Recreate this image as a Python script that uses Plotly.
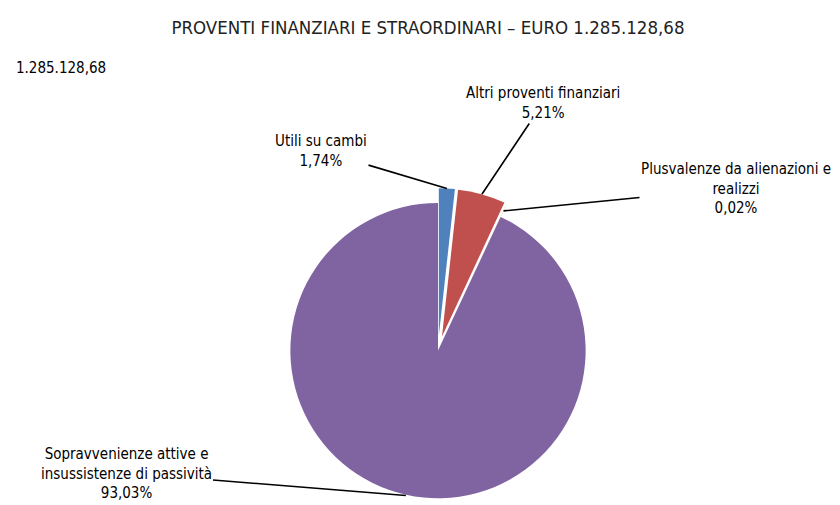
import math
import plotly.graph_objects as go

# ---- data ----
categories = [
    "Utili su cambi",
    "Altri proventi finanziari",
    "Plusvalenze da alienazioni e<br>realizzi",
    "Sopravvenienze attive e<br>insussistenze di passività",
]
percentages = [1.74, 5.21, 0.02, 93.03]
colors = ["#4F81BD", "#C0504D", "#D4A62A", "#8064A2"]
pulls = [0.1, 0.1, 0.1, 0.0]
title_text = "PROVENTI FINANZIARI E STRAORDINARI – EURO 1.285.128,68"
total_text = "1.285.128,68"

W, H = 840, 505
FONT = "DejaVu Sans Condensed, Liberation Sans Narrow, sans-serif"

# pie geometry (pixels)
cx, cy, r = 430, 343, 148
half = r * (1 + max(pulls))
domain_x = [(cx - half) / W, (cx + half) / W]
domain_y = [max(0, 1 - (cy + half) / H), 1 - (cy - half) / H]

fig = go.Figure(go.Pie(
    labels=categories,
    values=percentages,
    sort=False,
    direction="clockwise",
    rotation=0,
    pull=pulls,
    marker=dict(colors=colors, line=dict(width=0)),
    textinfo="none",
    hoverinfo="label+percent",
    showlegend=False,
    domain=dict(x=domain_x, y=domain_y),
))

def it_pct(v):
    return f"{v:.2f}".replace(".", ",") + "%"

# label text positions in pixels (centre of text block)
label_pos = [(313, 143), (535, 95), (728, 180), (118, 465)]
tip_scale = [1.0, 1.0, 0.95, 1.0]

total = sum(percentages)
cum = 0.0
for i, v in enumerate(percentages):
    mid = (cum + v / 2) / total
    cum += v
    ang = 2 * math.pi * mid
    dist = r * (1 + pulls[i]) * tip_scale[i]
    tx = cx + dist * math.sin(ang)
    ty = cy - dist * math.cos(ang)
    lx, ly = label_pos[i]
    fig.add_annotation(
        x=tx / W, y=1 - ty / H, xref="paper", yref="paper",
        ax=lx - tx, ay=ly - ty, axref="pixel", ayref="pixel",
        text=f"{categories[i]}<br>{it_pct(v)}",
        showarrow=True, arrowhead=0, arrowwidth=1.6, arrowcolor="black",
        font=dict(family=FONT, size=15, color="black"),
        align="center",
    )

fig.add_annotation(
    x=6 / W, y=1 - 60 / H, xref="paper", yref="paper",
    xanchor="left", yanchor="middle", showarrow=False,
    text=total_text, font=dict(family=FONT, size=15, color="black"),
)

fig.update_layout(
    width=W, height=H,
    margin=dict(l=0, r=0, t=0, b=0),
    paper_bgcolor="white", plot_bgcolor="white",
    title=dict(text=title_text, x=0.5, xanchor="center", y=1 - 20 / H, yanchor="middle",
               font=dict(family=FONT, size=18.5, color="#222222")),
)

fig.write_html("out.html")
